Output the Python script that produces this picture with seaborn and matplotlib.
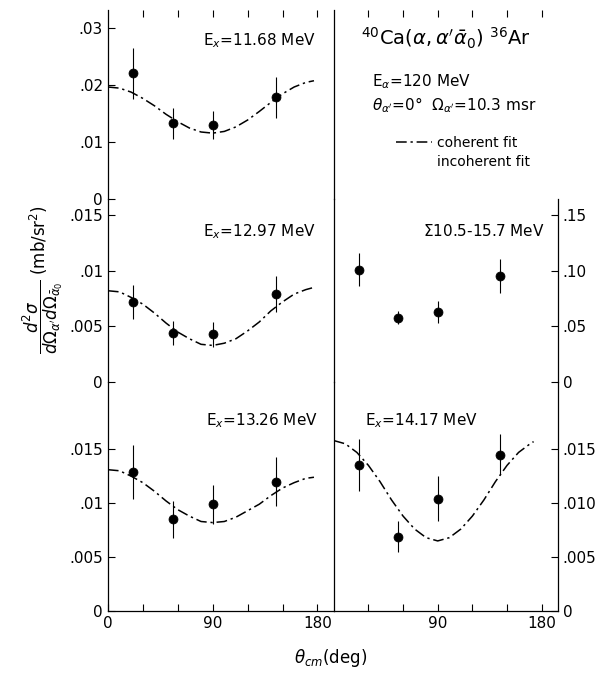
import matplotlib
matplotlib.use("Agg")
import matplotlib.pyplot as plt
from matplotlib.lines import Line2D
import seaborn as sns

# measured points (same four angles in every panel)
angles = [22, 56, 90, 144]

ex1168 = [0.0221, 0.0133, 0.0130, 0.0179]
ex1168_err = [0.0045, 0.0027, 0.0025, 0.0036]

ex1297 = [0.0072, 0.0044, 0.0043, 0.0079]
ex1297_err = [0.0015, 0.0011, 0.0011, 0.0016]

sum_105_157 = [0.101, 0.058, 0.063, 0.095]
sum_105_157_err = [0.015, 0.006, 0.010, 0.015]

ex1326 = [0.0129, 0.0085, 0.0099, 0.0120]
ex1326_err = [0.0025, 0.0017, 0.0018, 0.0023]

ex1417 = [0.0135, 0.0069, 0.0104, 0.0145]
ex1417_err = [0.0024, 0.0014, 0.0021, 0.0019]

# coherent fit curves
fit_angles = [0, 10, 20, 30, 40, 50, 60, 70, 80, 90,
              100, 110, 120, 130, 140, 150, 160, 170, 177]
fit_1168 = [0.0197, 0.0195, 0.0188, 0.0177, 0.0164, 0.0149, 0.0136, 0.0125, 0.0118, 0.0116,
            0.0119, 0.0127, 0.0139, 0.0154, 0.0170, 0.0185, 0.0197, 0.0205, 0.0208]
fit_1297 = [0.0082, 0.0081, 0.0076, 0.0070, 0.0062, 0.0053, 0.0045, 0.0039, 0.0034, 0.0033,
            0.0035, 0.0039, 0.0046, 0.0054, 0.0064, 0.0072, 0.0079, 0.0083, 0.0085]
fit_1326 = [0.0131, 0.0130, 0.0125, 0.0119, 0.0111, 0.0102, 0.0094, 0.0088, 0.0083, 0.0082,
            0.0083, 0.0087, 0.0093, 0.0099, 0.0107, 0.0114, 0.0119, 0.0123, 0.0124]
fit_angles_1417 = [0, 10, 20, 30, 40, 50, 60, 70, 80, 90,
                   100, 110, 120, 130, 140, 150, 160, 170, 173]
fit_1417 = [0.0158, 0.0155, 0.0147, 0.0135, 0.0120, 0.0103, 0.0088, 0.0076, 0.0068, 0.0065,
            0.0068, 0.0076, 0.0088, 0.0103, 0.0120, 0.0135, 0.0147, 0.0155, 0.0157]

sns.set_theme(style="ticks")
plt.rcParams["font.family"] = ["DejaVu Sans"]
plt.rcParams["mathtext.fontset"] = "dejavusans"
plt.rcParams["text.color"] = "black"
plt.rcParams["xtick.color"] = "black"
plt.rcParams["ytick.color"] = "black"
plt.rcParams["axes.edgecolor"] = "black"

fit_style = (0, (7, 2.5, 1.5, 2.5))

fig = plt.figure(figsize=(5.96, 6.73), dpi=100)
xl, xm, xr = 0.181, 0.560, 0.936
rows = [(0.704, 0.281), (0.432, 0.272), (0.092, 0.340)]

ax_tl = fig.add_axes([xl, rows[0][0], xm - xl, rows[0][1]])
ax_tr = fig.add_axes([xm, rows[0][0], xr - xm, rows[0][1]])
ax_ml = fig.add_axes([xl, rows[1][0], xm - xl, rows[1][1]])
ax_mr = fig.add_axes([xm, rows[1][0], xr - xm, rows[1][1]])
ax_bl = fig.add_axes([xl, rows[2][0], xm - xl, rows[2][1]])
ax_br = fig.add_axes([xm, rows[2][0], xr - xm, rows[2][1]])


def draw_points(ax, y, err):
    ax.errorbar(angles, y, yerr=err, fmt="none", ecolor="black", elinewidth=0.8, capsize=0)
    sns.scatterplot(x=angles, y=y, ax=ax, color="black", s=42, edgecolor="black", zorder=3)


def draw_fit(ax, x, y):
    sns.lineplot(x=x, y=y, ax=ax, color="black", linewidth=1.1, linestyle=fit_style,
                 sort=False, estimator=None)


panels = [
    (ax_tl, ex1168, ex1168_err, fit_angles, fit_1168),
    (ax_ml, ex1297, ex1297_err, fit_angles, fit_1297),
    (ax_mr, sum_105_157, sum_105_157_err, None, None),
    (ax_bl, ex1326, ex1326_err, fit_angles, fit_1326),
    (ax_br, ex1417, ex1417_err, fit_angles_1417, fit_1417),
]
for ax, y, err, fx, fy in panels:
    if fx is not None:
        draw_fit(ax, fx, fy)
    draw_points(ax, y, err)

for ax in [ax_tl, ax_tr, ax_ml, ax_mr, ax_bl, ax_br]:
    ax.patch.set_alpha(0)
    ax.set_xlim(0, 194)
    ax.tick_params(direction="in", length=5, width=0.8, labelsize=11, colors="black")
    for s in ax.spines.values():
        s.set_linewidth(0.9)
        s.set_color("black")
    ax.spines["top"].set_visible(False)
    ax.spines["bottom"].set_visible(False)
    ax.set_xlabel("")
    ax.set_ylabel("")

# y ranges and tick labels
ax_tl.set_ylim(0, 0.0332)
ax_tl.set_yticks([0, 0.01, 0.02, 0.03], ["0", ".01", ".02", ".03"])
ax_ml.set_ylim(0, 0.0164)
ax_ml.set_yticks([0, 0.005, 0.01, 0.015], ["0", ".005", ".01", ".015"])
ax_bl.set_ylim(0, 0.0212)
ax_bl.set_yticks([0, 0.005, 0.01, 0.015], ["0", ".005", ".01", ".015"])
ax_mr.set_ylim(0, 0.164)
ax_mr.set_yticks([0, 0.05, 0.10, 0.15], ["0", ".05", ".10", ".15"])
ax_br.set_ylim(0, 0.0212)
ax_br.set_yticks([0, 0.005, 0.010, 0.015], ["0", ".005", ".010", ".015"])
ax_tr.set_ylim(0, 1)
ax_tr.set_yticks([])

for ax in [ax_mr, ax_br]:
    ax.yaxis.tick_right()
    ax.spines["left"].set_visible(False)
ax_tr.spines["left"].set_visible(False)
ax_tr.spines["right"].set_visible(False)

# x ticks: top row on top, bottom row labelled, middle row none
for ax in [ax_tl, ax_tr]:
    ax.xaxis.tick_top()
    ax.set_xticks([30, 60, 90, 120, 150, 180])
    ax.tick_params(axis="x", labeltop=False)
for ax in [ax_ml, ax_mr]:
    ax.set_xticks([])
for ax in [ax_bl, ax_br]:
    ax.spines["bottom"].set_visible(True)
    ax.set_xticks([0, 30, 60, 90, 120, 150, 180],
                  ["0", "", "", "90", "", "", "180"])
ax_br.set_xticks([30, 60, 90, 120, 150, 180], ["", "", "90", "", "", "180"])

# panel labels
ax_tl.text(0.92, 0.84, r"E$_x$=11.68 MeV", transform=ax_tl.transAxes, ha="right", va="center", fontsize=11)
ax_ml.text(0.92, 0.825, r"E$_x$=12.97 MeV", transform=ax_ml.transAxes, ha="right", va="center", fontsize=11)
ax_mr.text(0.94, 0.825, r"$\Sigma$10.5-15.7 MeV", transform=ax_mr.transAxes, ha="right", va="center", fontsize=11)
ax_bl.text(0.93, 0.834, r"E$_x$=13.26 MeV", transform=ax_bl.transAxes, ha="right", va="center", fontsize=11)
ax_br.text(0.14, 0.834, r"E$_x$=14.17 MeV", transform=ax_br.transAxes, ha="left", va="center", fontsize=11)

# reaction info in the empty top-right panel
ax_tr.text(0.12, 0.85, r"$^{40}$Ca$(\alpha,\alpha^{\prime}\bar{\alpha}_0)$ $^{36}$Ar",
           transform=ax_tr.transAxes, ha="left", va="center", fontsize=14)
ax_tr.text(0.17, 0.62, r"E$_\alpha$=120 MeV", transform=ax_tr.transAxes, ha="left", va="center", fontsize=11)
ax_tr.text(0.17, 0.50, r"$\theta_{\alpha^\prime}$=0°  $\Omega_{\alpha^\prime}$=10.3 msr",
           transform=ax_tr.transAxes, ha="left", va="center", fontsize=11)
handles = [Line2D([], [], color="black", linewidth=1.1, linestyle=fit_style),
           Line2D([], [], color="none")]
ax_tr.legend(handles, ["coherent fit", "incoherent fit"], loc="upper left",
             bbox_to_anchor=(0.22, 0.40), frameon=False, handlelength=2.6,
             handletextpad=0.4, labelspacing=0.35, fontsize=10)

fig.text(0.072, 0.584, r"$\dfrac{d^2\sigma}{d\Omega_{\alpha^\prime}d\Omega_{\bar{\alpha}_0}}$ (mb/sr$^2$)",
         rotation=90, ha="center", va="center", fontsize=12)
fig.text(0.555, 0.022, r"$\theta_{cm}$(deg)", ha="center", va="center", fontsize=12)

fig.savefig("out.png", dpi=100)
